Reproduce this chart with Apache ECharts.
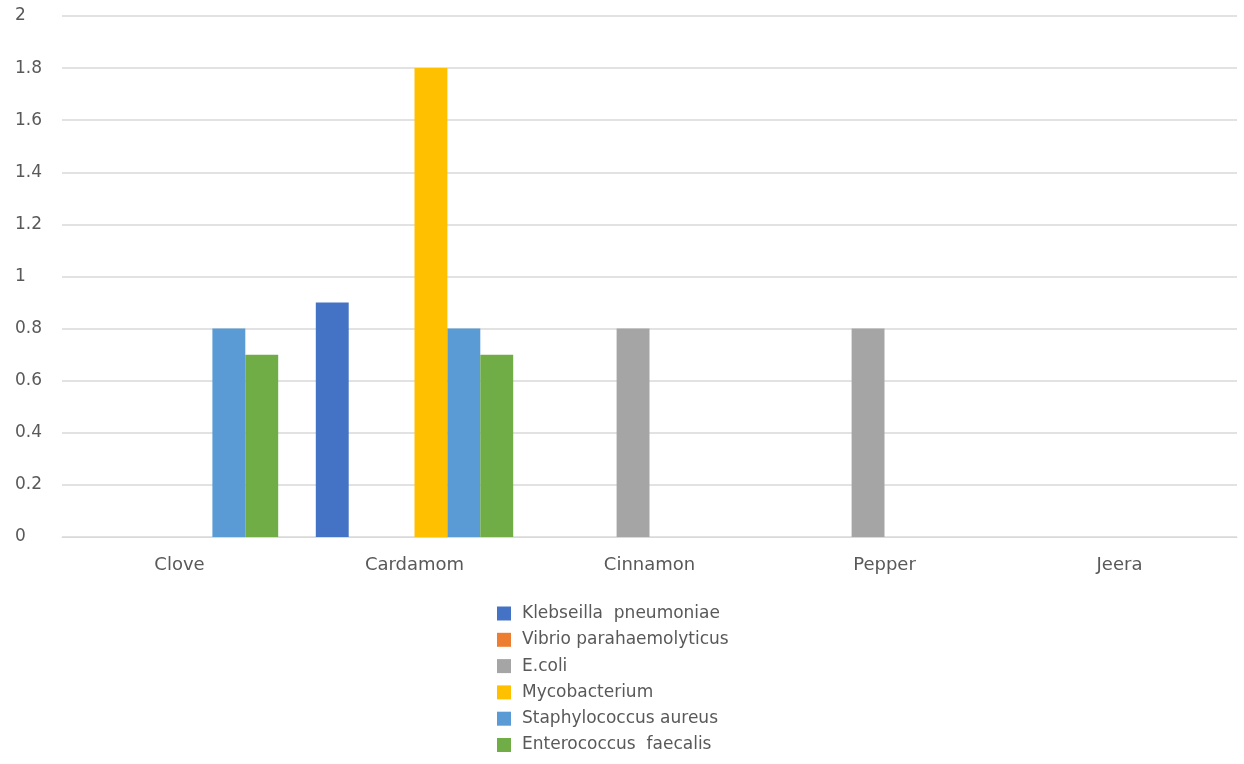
<!DOCTYPE html>
<html><head><meta charset="utf-8">
<script src="https://cdn.jsdelivr.net/npm/echarts@6/dist/echarts.min.js"></script>
<style>html,body{margin:0;padding:0;background:#fff}#c{width:1244px;height:764px}</style>
</head><body><div id="c"></div>
<script>
const categories = ['Clove', 'Cardamom', 'Cinnamon', 'Pepper', 'Jeera'];
const seriesNames = ['Klebseilla  pneumoniae', 'Vibrio parahaemolyticus', 'E.coli', 'Mycobacterium', 'Staphylococcus aureus', 'Enterococcus  faecalis'];
const klebseilla = [0, 0.9, 0, 0, 0];
const vibrio = [0, 0, 0, 0, 0];
const ecoli = [0, 0, 0.8, 0.8, 0];
const mycobacterium = [0, 1.8, 0, 0, 0];
const staphylococcus = [0.8, 0.8, 0, 0, 0];
const enterococcus = [0.7, 0.7, 0, 0, 0];
const yTicks = [0, 0.2, 0.4, 0.6, 0.8, 1, 1.2, 1.4, 1.6, 1.8, 2];

const colors = ['#4472C4', '#ED7D31', '#A5A5A5', '#FFC000', '#5B9BD5', '#70AD47'];
const values = [klebseilla, vibrio, ecoli, mycobacterium, staphylococcus, enterococcus];
const font = 'DejaVu Sans';
const chart = echarts.init(document.getElementById('c'));
chart.setOption({
  animation: false,
  color: colors,
  textStyle: { fontFamily: font },
  grid: { left: 62, right: 7, top: 16, bottom: 227, containLabel: false },
  legend: {
    orient: 'vertical', left: 492, top: 600, padding: 5,
    itemWidth: 14, itemHeight: 14, itemGap: 9.3, icon: 'rect',
    textStyle: { fontFamily: font, fontSize: 17, color: '#595959', padding: [0,0,0,6] },
    data: seriesNames
  },
  xAxis: {
    type: 'category', data: categories,
    axisTick: { show: false },
    axisLine: { lineStyle: { color: '#d9d9d9', width: 1 } },
    axisLabel: { fontFamily: font, fontSize: 18, color: '#595959', margin: 19 }
  },
  yAxis: {
    type: 'value', min: yTicks[0], max: yTicks[yTicks.length - 1], interval: 0.2,
    axisLine: { show: false }, axisTick: { show: false },
    splitLine: { lineStyle: { color: '#e2e2e2', width: 2 } },
    axisLabel: { fontFamily: font, fontSize: 17, color: '#595959', align: 'left', margin: 47 }
  },
  series: seriesNames.map((n, i) => ({
    name: n, type: 'bar', data: values[i],
    barGap: '0%', barCategoryGap: '16%',
    itemStyle: { color: colors[i] }
  }))
});
</script></body></html>
